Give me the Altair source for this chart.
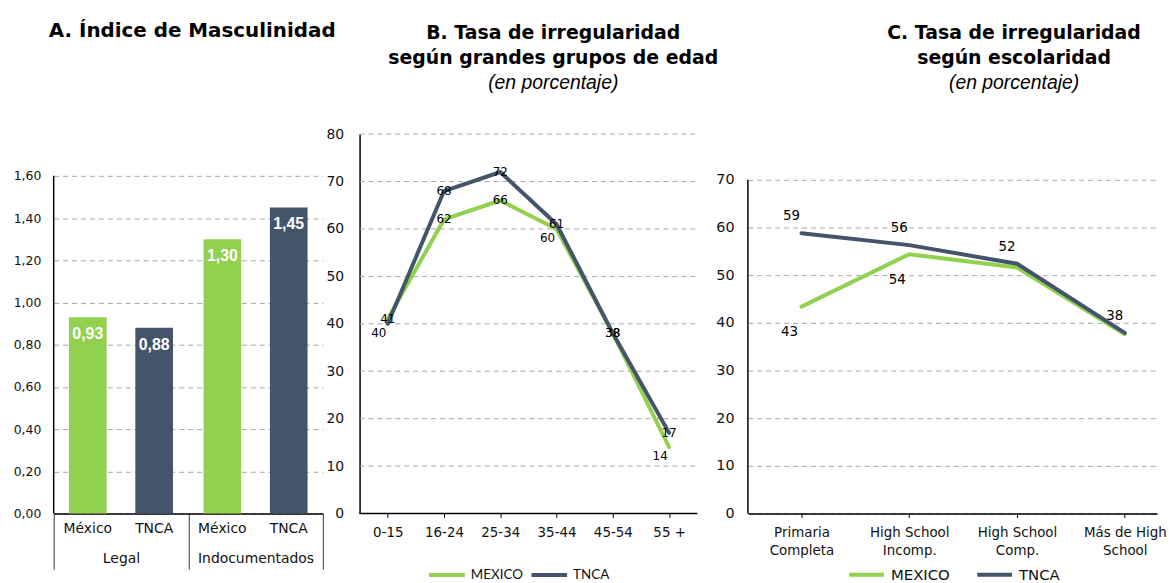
import altair as alt
import pandas as pd

GREEN = "#92D050"
DARK = "#44546A"
GRID = "#A6A6A6"
TXT = "#111111"

# ---------------- data ----------------
A_GROUPS = ["Legal", "Legal", "Indocumentados", "Indocumentados"]
A_COUNTRIES = ["México", "TNCA", "México", "TNCA"]
A_VALUES = [0.93, 0.88, 1.30, 1.45]
A_TICKS = [0.0, 0.2, 0.4, 0.6, 0.8, 1.0, 1.2, 1.4, 1.6]

B_AGES = ["0-15", "16-24", "25-34", "35-44", "45-54", "55 +"]
B_MEXICO = [41, 62, 66, 60, 38, 14]
B_TNCA = [40, 68, 72, 61, 38, 17]
B_TICKS = [0, 10, 20, 30, 40, 50, 60, 70, 80]

C_LEVELS = ["Primaria\nCompleta", "High School\nIncomp.", "High School\nComp.", "Más de High\nSchool"]
C_MEXICO = [43.4, 54.4, 51.6, 37.6]
C_TNCA = [58.8, 56.3, 52.4, 37.9]
C_TICKS = [0, 10, 20, 30, 40, 50, 60, 70]

SERIES = ["MEXICO", "TNCA"]

# ---------------- layout ----------------
H = 382
WA, WB_VISIBLE, WB, WC = 271, 340, 354, 412
A_MAX = 1.6 * H / 340
C_MAX = 70 * H / 336

TITLE_FONT = "DejaVu Sans"

# ---------------- Panel A ----------------
dfA = pd.DataFrame({
    "grupo": A_GROUPS,
    "pais": A_COUNTRIES,
    "valor": A_VALUES,
    "etiqueta": [f"{v:.2f}".replace(".", ",") for v in A_VALUES],
})

xA = alt.X("grupo:N", sort=["Legal", "Indocumentados"],
           scale=alt.Scale(paddingInner=0, paddingOuter=0),
           axis=alt.Axis(title=None, labelAngle=0, labelFont="DejaVu Sans", labelFontSize=14,
                         labelColor=TXT, domainColor="#000", domainWidth=1.5,
                         tickBand="extent", tickSize=56, tickColor="#333", tickWidth=1,
                         labelPadding=-18, grid=False))
xoA = alt.XOffset("pais:N", sort=["México", "TNCA"],
                  scale=alt.Scale(paddingInner=0.433, paddingOuter=0.23))
yA = alt.Y("valor:Q", scale=alt.Scale(domain=[0, A_MAX], nice=False),
           axis=alt.Axis(title=None, values=A_TICKS,
                         labelExpr="replace(format(datum.value, '.2f'), '.', ',')",
                         domain=False, ticks=False, labelPadding=13,
                         labelFont="DejaVu Sans", labelFontSize=12.5, labelColor=TXT,
                         grid=True, gridColor=GRID, gridDash=[5, 4], gridWidth=1))

baseA = alt.Chart(dfA)
barsA = baseA.mark_bar().encode(
    x=xA, xOffset=xoA, y=yA,
    color=alt.Color("pais:N", scale=alt.Scale(domain=["México", "TNCA"], range=[GREEN, DARK]),
                    legend=None),
)
barLabA = baseA.mark_text(font="Liberation Sans", fontWeight="bold", fontSize=16,
                          color="white", baseline="top", dy=9).encode(
    x=xA, xOffset=xoA, y="valor:Q", text="etiqueta:N")
countryA = baseA.mark_text(font="DejaVu Sans", fontSize=14, color=TXT, baseline="middle").encode(
    x=xA, xOffset=xoA, y=alt.value(H + 16), text="pais:N")
axisLineA = alt.Chart(pd.DataFrame({"top": [A_TICKS[-1]]})).mark_rule(
    color="#000", strokeWidth=1.5).encode(x=alt.value(0), y="top:Q", y2=alt.datum(0))

chartA = alt.layer(barsA, barLabA, countryA, axisLineA).properties(
    width=WA, height=H,
    title=alt.TitleParams("A. Índice de Masculinidad", font=TITLE_FONT, fontSize=20,
                          fontWeight="bold", color="#000", anchor="middle", frame="group",
                          dx=4, offset=94),
)

# ---------------- Panel B ----------------
rowsB = []
for i, age in enumerate(B_AGES):
    m, t = B_MEXICO[i], B_TNCA[i]
    close = 0 < abs(m - t) <= 3
    rowsB.append({"edad": age, "serie": "MEXICO", "valor": m, "pos": "bl" if (close and m < t) else "c"})
    rowsB.append({"edad": age, "serie": "TNCA", "valor": t, "pos": "bl" if (close and t < m) else "c"})
dfB = pd.DataFrame(rowsB)

xB = alt.X("edad:N", sort=B_AGES, scale=alt.Scale(type="point", padding=0.6235, align=0.401),
           axis=alt.Axis(title=None, labelAngle=0, labelFont="DejaVu Sans", labelFontSize=13.5,
                         labelColor=TXT, domain=False, ticks=True,
                         tickSize=4, tickColor="#000", labelPadding=8, grid=False))
yB = alt.Y("valor:Q", scale=alt.Scale(domain=[0, 80], nice=False),
           axis=alt.Axis(title=None, values=B_TICKS, domain=True, domainColor="#000",
                         domainWidth=1.5, ticks=False, labelPadding=16,
                         labelFont="DejaVu Sans", labelFontSize=14, labelColor=TXT,
                         grid=False))
colorB = alt.Color("serie:N", scale=alt.Scale(domain=SERIES, range=[GREEN, DARK]),
                   legend=alt.Legend(orient="none", legendX=68, legendY=424, direction="horizontal",
                                     title=None, symbolType="stroke", symbolSize=1296,
                                     symbolStrokeWidth=4, labelFont="Lato", labelFontSize=13.5,
                                     labelColor=TXT, labelOffset=4, columnPadding=0, padding=0))

gridB = alt.Chart(pd.DataFrame({"g": B_TICKS[1:]})).mark_rule(
    color=GRID, strokeWidth=1, strokeDash=[5, 4]).encode(
    y=alt.Y("g:Q"), x=alt.value(0), x2=alt.value(WB_VISIBLE))
baseLineB = alt.Chart(pd.DataFrame({"g": [B_TICKS[0]]})).mark_rule(
    color="#000", strokeWidth=1.5).encode(
    y=alt.Y("g:Q"), x=alt.value(0), x2=alt.value(WB_VISIBLE))

baseB = alt.Chart(dfB)
linesB = baseB.mark_line(strokeWidth=4, strokeCap="round").encode(x=xB, y=yB, color=colorB)
labBc = baseB.transform_filter("datum.pos == 'c'").mark_text(
    font="DejaVu Sans", fontSize=12, color="#000").encode(
    x=xB, y="valor:Q", text=alt.Text("valor:Q", format=".0f"))
labBbl = baseB.transform_filter("datum.pos == 'bl'").mark_text(
    font="DejaVu Sans", fontSize=12, color="#000", dx=-9, dy=9).encode(
    x=xB, y="valor:Q", text=alt.Text("valor:Q", format=".0f"))

chartB = alt.layer(gridB, linesB, labBc, labBbl, baseLineB).properties(
    width=WB, height=H,
    title=alt.TitleParams(["B. Tasa de irregularidad", "según grandes grupos de edad"],
                          subtitle="(en porcentaje)", font=TITLE_FONT, fontSize=19,
                          fontWeight="bold", color="#000", lineHeight=25,
                          subtitleFont="Liberation Sans", subtitleFontStyle="italic",
                          subtitleFontSize=19.5, subtitleColor="#000", subtitlePadding=6,
                          anchor="middle", frame="group", dx=18, offset=35),
)

# ---------------- Panel C ----------------
rowsC = []
for i, lvl in enumerate(C_LEVELS):
    m, t = C_MEXICO[i], C_TNCA[i]
    rowsC.append({"nivel": lvl, "serie": "MEXICO", "valor": m, "show": (t - m) > 1.5})
    rowsC.append({"nivel": lvl, "serie": "TNCA", "valor": t, "show": True})
dfC = pd.DataFrame(rowsC)

xC = alt.X("nivel:N", sort=C_LEVELS, scale=alt.Scale(type="point", padding=0.3986, align=0.624),
           axis=alt.Axis(title=None, labelAngle=0, labelFont="DejaVu Sans", labelFontSize=13.5,
                         labelColor=TXT, labelExpr="split(datum.label, '\\n')", labelLineHeight=18,
                         domainColor="#000", domainWidth=1.5, ticks=True, tickSize=4,
                         tickColor="#000", labelPadding=8, grid=False))
yC = alt.Y("valor:Q", scale=alt.Scale(domain=[0, C_MAX], nice=False),
           axis=alt.Axis(title=None, values=C_TICKS, domain=False, ticks=False, labelPadding=14,
                         labelFont="DejaVu Sans", labelFontSize=14.4, labelColor=TXT,
                         grid=True, gridColor=GRID, gridDash=[5, 4], gridWidth=1))
colorC = alt.Color("serie:N", scale=alt.Scale(domain=SERIES, range=[GREEN, DARK]),
                   legend=alt.Legend(orient="none", legendX=100, legendY=424, direction="horizontal",
                                     title=None, symbolType="stroke", symbolSize=1225,
                                     symbolStrokeWidth=4, labelFont="DejaVu Sans", labelFontSize=15,
                                     labelColor=TXT, labelOffset=5, columnPadding=19, padding=0))

baseC = alt.Chart(dfC)
linesC = baseC.mark_line(strokeWidth=4, strokeCap="round").encode(x=xC, y=yC, color=colorC)
labCt = baseC.transform_filter("datum.serie == 'TNCA'").mark_text(
    font="DejaVu Sans", fontSize=13.5, color="#000", dx=-10, dy=-17).encode(
    x=xC, y="valor:Q", text=alt.Text("valor:Q", format=".0f"))
labCm = baseC.transform_filter("datum.serie == 'MEXICO' && datum.show").mark_text(
    font="DejaVu Sans", fontSize=13.5, color="#000", dx=-12, dy=26).encode(
    x=xC, y="valor:Q", text=alt.Text("valor:Q", format=".0f"))
axisLineC = alt.Chart(pd.DataFrame({"top": [C_TICKS[-1]]})).mark_rule(
    color="#000", strokeWidth=1.5).encode(x=alt.value(0), y="top:Q", y2=alt.datum(0))

chartC = alt.layer(linesC, labCt, labCm, axisLineC).properties(
    width=WC, height=H,
    title=alt.TitleParams(["C. Tasa de irregularidad", "según escolaridad"],
                          subtitle="(en porcentaje)", font=TITLE_FONT, fontSize=19,
                          fontWeight="bold", color="#000", lineHeight=25,
                          subtitleFont="Liberation Sans", subtitleFontStyle="italic",
                          subtitleFontSize=19.5, subtitleColor="#000", subtitlePadding=6,
                          anchor="middle", frame="group", dx=62, offset=42),
)

chart = alt.hconcat(chartA, chartB, chartC, spacing=37, bounds="flush").resolve_scale(
    color="independent").resolve_legend(color="independent").properties(
    padding={"left": 5, "top": 11, "right": 0, "bottom": 0},
    background="white",
).configure_view(stroke=None)

chart.save("out.html", embed_options={"renderer": "svg", "actions": False})
